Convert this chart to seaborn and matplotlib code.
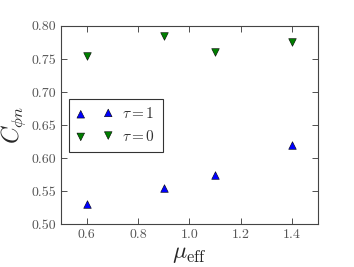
import numpy as np
import pandas as pd
import matplotlib
matplotlib.use("Agg")
import matplotlib.pyplot as plt
import seaborn as sns

# datos
mu_eff = [0.6, 0.9, 1.1, 1.4]
c_tau1 = [0.530, 0.555, 0.575, 0.620]
c_tau0 = [0.755, 0.785, 0.760, 0.775]
xticks = [0.6, 0.8, 1.0, 1.2, 1.4]
yticks = [0.50, 0.55, 0.60, 0.65, 0.70, 0.75, 0.80]

sns.set_style("ticks")
plt.rcParams['font.family'] = ['cmr10', 'DejaVu Serif']
plt.rcParams['mathtext.fontset'] = 'cm'
plt.rcParams['axes.formatter.use_mathtext'] = True
plt.rcParams['xtick.direction'] = 'in'
plt.rcParams['ytick.direction'] = 'in'

df1 = pd.DataFrame({"mu": mu_eff, "C": c_tau1})
df0 = pd.DataFrame({"mu": mu_eff, "C": c_tau0})

fig, ax = plt.subplots(figsize=(3.54, 2.67), dpi=100)
sns.scatterplot(data=df1, x="mu", y="C", marker="^", color="#0000ff", s=30,
                edgecolor="black", linewidth=0.4, label=r"$\tau=1$", ax=ax)
sns.scatterplot(data=df0, x="mu", y="C", marker="v", color="#007f00", s=30,
                edgecolor="black", linewidth=0.4, label=r"$\tau=0$", ax=ax)

ax.set_xlim(0.5, 1.5)
ax.set_ylim(0.5, 0.8)
ax.set_xticks(xticks)
ax.set_yticks(yticks)
ax.set_xticklabels([f"{t:.1f}" for t in xticks])
ax.set_yticklabels([f"{t:.2f}" for t in yticks])
ax.tick_params(top=True, right=True, labelsize=10, length=4, width=0.6, colors="#333333",
               labelcolor="#555555")
for sp in ax.spines.values():
    sp.set_visible(True)
    sp.set_linewidth(0.8)
    sp.set_color("#444444")

ax.set_xlabel(r"$\mu_{\mathrm{eff}}$", fontsize=17, labelpad=1)
ax.set_ylabel(r"$C_{\phi n}$", fontsize=17, labelpad=2)

leg = ax.legend(loc="center left", bbox_to_anchor=(0.0, 0.5), scatterpoints=2,
                frameon=True, fancybox=False, fontsize=11, handletextpad=0.6,
                handlelength=2.4, borderpad=0.5, labelspacing=0.5)
leg.get_frame().set_edgecolor("black")
leg.get_frame().set_linewidth(0.8)
for t in leg.get_texts():
    t.set_color("#333333")

fig.subplots_adjust(left=0.172, right=0.898, top=0.903, bottom=0.16)
fig.savefig("out.png", dpi=100)
